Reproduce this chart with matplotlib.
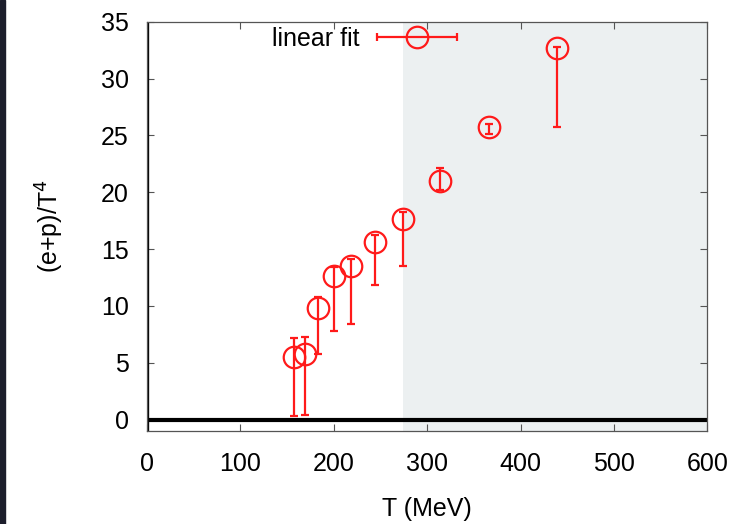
import numpy as np
import matplotlib
matplotlib.use("Agg")
import matplotlib.pyplot as plt
from matplotlib.patches import Rectangle
from matplotlib.lines import Line2D
from matplotlib.collections import LineCollection
from matplotlib.container import ErrorbarContainer
from matplotlib.legend_handler import HandlerErrorbar

# Temperature (MeV) and (e+p)/T^4 with lower/upper bounds
T_mev = [157.1, 168.9, 183.2, 200.0, 218.9, 244.6, 274.3, 314.3, 366.1, 439.3]
ratio = [5.47, 5.74, 9.81, 12.65, 13.47, 15.58, 17.66, 21.0, 25.77, 32.66]
ratio_lo = [0.33, 0.44, 5.8, 7.82, 8.44, 11.86, 13.47, 20.2, 25.13, 25.77]
ratio_hi = [7.2, 7.29, 10.78, 13.44, 14.12, 16.26, 18.3, 22.14, 25.98, 32.8]
shade_start = 274.0
x_ticks = [0, 100, 200, 300, 400, 500, 600]
y_ticks = [0, 5, 10, 15, 20, 25, 30, 35]

plt.rcParams['font.family'] = ['Liberation Sans', 'DejaVu Sans']
FS = 18

fig = plt.figure(figsize=(7.39, 5.24), dpi=100)
ax = fig.add_axes([0.1989, 0.1775, 0.7582, 0.7811])

red = '#ff1a1a'
y = np.array(ratio)
yerr = [y - np.array(ratio_lo), np.array(ratio_hi) - y]

ax.axvspan(shade_start, 600, color='#ecf0f1', zorder=0, lw=0)
ax.axhline(0, color='black', lw=3.0, zorder=2)
ax.axvline(0, color='black', lw=2.4, zorder=2)

ax.errorbar(T_mev, ratio, yerr=yerr, fmt='o', mfc='none', mec=red,
            ms=15.5, mew=1.6, ecolor=red, elinewidth=1.6, capsize=3.0,
            capthick=1.8, zorder=3)

# legend key: marker with a horizontal bar
pl = Line2D([], [], color=red, marker='o', mfc='none', mec=red, ms=15.5,
            mew=1.6, ls='none')
cl = Line2D([], [], color=red, marker='|', ms=6, mew=1.6, ls='none')
bc = LineCollection([], colors=[red], linewidths=1.6)
proxy = ErrorbarContainer((pl, (cl,), (bc,)), has_xerr=True, has_yerr=False)
ax.legend([proxy], ['linear fit'], loc='center right',
          bbox_to_anchor=(0.553, 0.958), frameon=False, markerfirst=False,
          fontsize=FS, handlelength=3.2, handletextpad=0.7, borderpad=0,
          borderaxespad=0,
          handler_map={ErrorbarContainer: HandlerErrorbar(xerr_size=1.6)})

ax.set_xlim(0, 600)
ax.set_ylim(-1, 35)
ax.set_xticks(x_ticks)
ax.set_yticks(y_ticks)
ax.tick_params(direction='in', length=5, width=0.8, color='#555555',
               top=True, right=True, labelsize=FS)
ax.tick_params(axis='x', pad=15)
ax.tick_params(axis='y', pad=13)
for s in ax.spines.values():
    s.set_color('#555555')
    s.set_linewidth(0.9)

ax.set_xlabel('T (MeV)', fontsize=FS, labelpad=15)
ax.set_ylabel('(e+p)/T$^4$', fontsize=FS, labelpad=25)

fig.patches.append(Rectangle((0, 0), 5 / 739, 1, transform=fig.transFigure,
                             color='#1c1e2c', zorder=10))

fig.savefig('out.png', dpi=100)
